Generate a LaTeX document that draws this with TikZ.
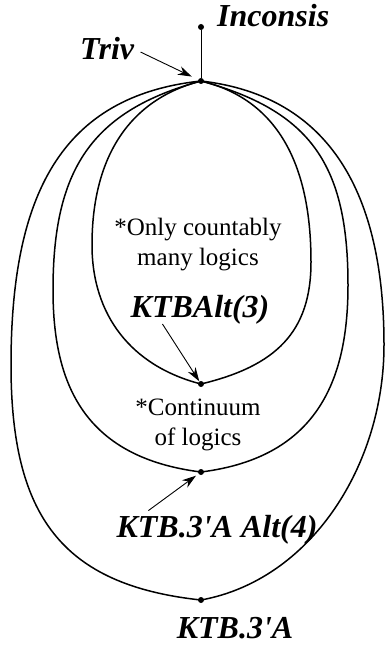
\documentclass[tikz,border=0pt]{standalone}
\usepackage{fontspec}
\setmainfont{Liberation Serif}
\usetikzlibrary{arrows.meta}
\newcommand{\q}{\textquotesingle}

\begin{document}
\begin{tikzpicture}[x=1pt,y=-1pt,
	dot/.style={circle,fill,inner sep=0pt,minimum size=6pt},
	oval/.style={line width=1.5pt},
	arr/.style={-{Stealth[length=14pt,width=9pt]},line width=0.9pt},
	big/.style={font=\fontsize{32}{32}\selectfont\bfseries\itshape,inner sep=0pt},
	small/.style={font=\fontsize{25}{30}\selectfont,inner sep=0pt}]
\useasboundingbox (0,0) rectangle (385,647);
\node[dot] (inconsis) at (201,27) {};
\node[dot] (triv) at (201,81) {};
\node[dot] (alt3) at (201,384) {};
\node[dot] (alt4) at (201,472) {};
\node[dot] (ktb) at (201,600) {};
% the three ovals, all through Triv
\draw[oval] (triv.center) .. controls +(-70,18) and +(0,-90) .. (92,245)
	.. controls +(0,70) and +(-70,-18) .. (alt3.center)
	.. controls +(75,-18) and +(0,70) .. (311,262)
	.. controls +(0,-100) and +(75,18) .. (triv.center);
\draw[oval] (triv.center) .. controls +(-110,30) and +(0,-120) .. (53,290)
	.. controls +(0,90) and +(-120,-15) .. (alt4.center)
	.. controls +(120,-15) and +(0,90) .. (348,285)
	.. controls +(0,-120) and +(110,30) .. (triv.center);
\draw[oval] (triv.center) .. controls +(-140,15) and +(0,-170) .. (11,365)
	.. controls +(0,150) and +(-140,-15) .. (ktb.center)
	.. controls +(110,-20) and +(0,120) .. (384,345)
	.. controls +(0,-150) and +(130,15) .. (triv.center);
\draw[line width=1pt] (triv) -- (inconsis);
\node[big, anchor = base west] (inconsislbl) at (217,27) {Inconsis};
\node[big, anchor = base west] (trivlbl) at (80,60) {Triv};
\node[small, anchor = base] (only1) at (198,235) {*Only countably};
\node[small, anchor = base] (only2) at (198,265) {many logics};
\node[big, anchor = base] (alt3lbl) at (200,317) {KTBAlt(3)};
\node[small, anchor = base] (cont1) at (198,415) {*Continuum};
\node[small, anchor = base] (cont2) at (198,445) {of logics};
\node[big, anchor = base] (alt4lbl) at (217,537) {KTB.3\q A Alt(4)};
\node[big, anchor = base] (ktblbl) at (235,638) {KTB.3\q A};
\draw[arr, shorten <=7pt, shorten >=7pt] (trivlbl.east) -- (triv);
\draw[arr] ([xshift=32pt]alt3lbl.south west) -- (alt3);
\draw[arr, shorten >=3pt] ([xshift=32pt,yshift=4pt]alt4lbl.north west) -- (alt4);
\end{tikzpicture}
\end{document}
